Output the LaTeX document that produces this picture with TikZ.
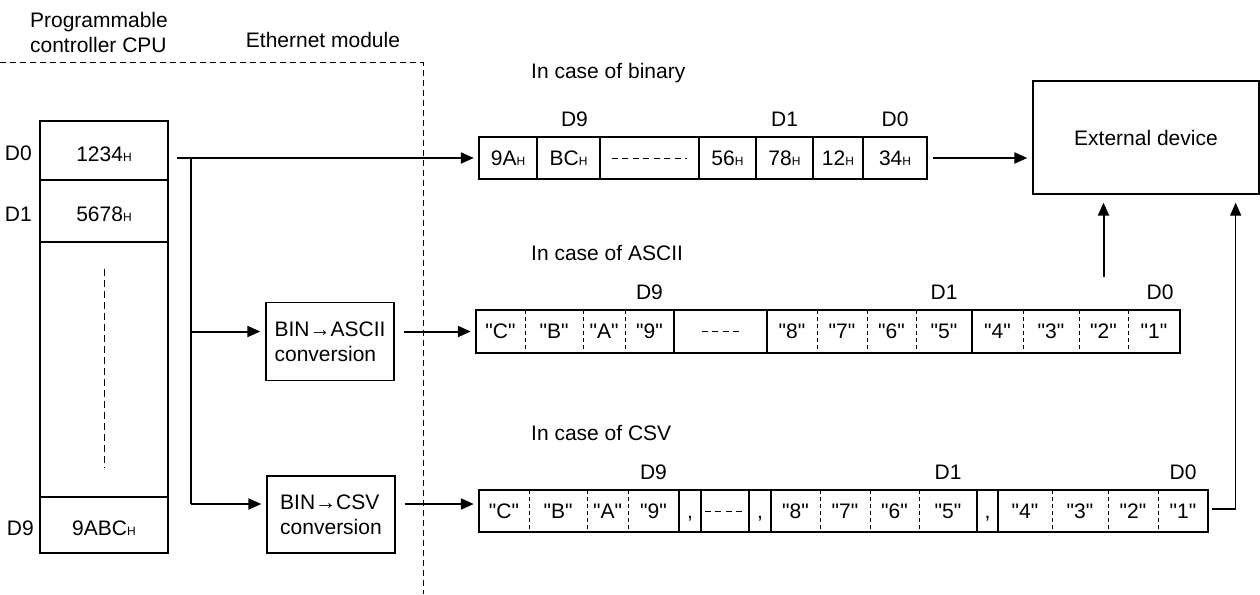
\documentclass[tikz,border=0pt]{standalone}
\usepackage{fontspec}
\setmainfont{Liberation Sans}[Ligatures=TeXOff]
\usetikzlibrary{arrows.meta}
\usetikzlibrary{positioning}
\usetikzlibrary{calc}

\newcommand{\hx}{{\fontsize{12}{12}\selectfont H}}

\begin{document}
\begin{tikzpicture}
          [x=1pt, y=-1pt, font=\fontsize{21}{25}\selectfont,
           every node/.style={inner sep=0pt},
           mem/.style={draw, line width=2pt, minimum width=128pt, text height=21pt, text depth=0pt},
           cell/.style={minimum height=42pt, text height=18pt, text depth=4pt},
           rowbox/.style={draw, line width=2pt},
           ssep/.style={line width=2pt},
           dsep/.style={line width=1pt, dash pattern=on 4pt off 3pt},
           nosep/.style={draw=none},
           gap/.style={line width=1pt, dash pattern=on 6pt off 4.5pt},
           conv/.style={draw, line width=1.3pt, minimum width=128pt, align=left},
           arr/.style={line width=2pt, -{Triangle[length=13pt,width=11pt]}, shorten >=5pt},
           arrthin/.style={arr, line width=1.3pt}]
          \useasboundingbox (0,0) rectangle (1260,594);

          % CPU side
          \node (cpu) [align=left] at (99,32) {Programmable\\controller CPU};
          \node (eth) at (323,40) {Ethernet module};
          \draw[line width=1pt, dash pattern=on 6pt off 4pt] (0,63) -- (423,63) -- (423,594);

          \node (m0) [mem, minimum height=59pt] at (104,150.5) {1234\hx};
          \node (m1) [mem, minimum height=62pt] at (104,211) {5678\hx};
          \node (mm) [mem, minimum height=255pt] at (104,369.5) {};
          \node (m9) [mem, minimum height=56pt] at (104,525) {9ABC\hx};
          \draw[line width=1pt, dash pattern=on 7pt off 4pt] ([shift={(0,28)}]mm.north) -- ([shift={(0,-30)}]mm.south);
          \node (d0) [left=7pt of m0, text height=21pt] {D0};
          \node (d1) [left=7pt of m1, text height=21pt] {D1};
          \node (d9) [left=5pt of m9, text height=21pt] {D9};

          % binary
          \node (tbin) [anchor=west] at (531,73) {In case of binary};
          \foreach \nm/\xa/\xb/\txt/\sp in {b1/479/537/{9A\hx}/ssep, b2/537/600/{BC\hx}/ssep,
              b3/600/699/{}/ssep, b4/699/756/{56\hx}/ssep, b5/756/813/{78\hx}/ssep,
              b6/813/863/{12\hx}/ssep, b7/863/927/{34\hx}/nosep}
          {
            \node (\nm) [cell, minimum width=\xb-\xa] at ({(\xa+\xb)/2},158) {\txt};
            \draw[\sp] (\nm.north east) -- (\nm.south east);
          }
          \draw[rowbox] (b1.north west) rectangle (b7.south east);
          \draw[gap] ($(b3.west)+(12,0)$) -- ($(b3.east)+(-12,0)$);
          \node (bd9) [above=10pt of b2, xshift=6pt] {D9};
          \node (bd1) [above=10pt of b5] {D1};
          \node (bd0) [above=10pt of b7] {D0};

          % ASCII
          \node (tasc) [anchor=west] at (531,253) {In case of ASCII};
          \foreach \nm/\xa/\xb/\txt/\sp in {a1/476/525/"C"/dsep, a2/525/583/"B"/dsep,
              a3/583/625/"A"/dsep, a4/625/674/"9"/ssep, a5/674/767/{}/ssep,
              a6/767/817/"8"/dsep, a7/817/867/"7"/dsep, a8/867/916/"6"/dsep,
              a9/916/972/"5"/ssep, a10/972/1023/"4"/dsep, a11/1023/1079/"3"/dsep,
              a12/1079/1128/"2"/dsep, a13/1128/1180/"1"/nosep}
          {
            \node (\nm) [cell, minimum height=43pt, minimum width=\xb-\xa] at ({(\xa+\xb)/2},331.5) {\txt};
            \draw[\sp] (\nm.north east) -- (\nm.south east);
          }
          \draw[rowbox] (a1.north west) rectangle (a13.south east);
          \draw[gap] ($(a5.west)+(28,0)$) -- ($(a5.east)+(-27,0)$);
          \node (ad9) [above=10pt of a4] {D9};
          \node (ad1) [above=10pt of a9] {D1};
          \node (ad0) [above=10pt of a13, xshift=6pt] {D0};

          % CSV
          \node (tcsv) [anchor=west] at (531,433) {In case of CSV};
          \foreach \nm/\xa/\xb/\txt/\sp in {c1/479/529/"C"/dsep, c2/529/587/"B"/dsep,
              c3/587/628/"A"/dsep, c4/628/679/"9"/ssep, c5/679/701/{,}/ssep,
              c6/701/749/{}/ssep, c7/749/771/{,}/ssep, c8/771/820/"8"/dsep,
              c9/820/870/"7"/dsep, c10/870/919/"6"/dsep, c11/919/977/"5"/ssep,
              c12/977/998/{,}/ssep, c13/998/1052/"4"/dsep, c14/1052/1108/"3"/dsep,
              c15/1108/1158/"2"/dsep, c16/1158/1208/"1"/nosep}
          {
            \node (\nm) [cell, minimum width=\xb-\xa] at ({(\xa+\xb)/2},511) {\txt};
            \draw[\sp] (\nm.north east) -- (\nm.south east);
          }
          \draw[rowbox] (c1.north west) rectangle (c16.south east);
          \draw[gap] ($(c6.west)+(4,0)$) -- ($(c6.east)+(-3,0)$);
          \node (cd9) [above=10pt of c4] {D9};
          \node (cd1) [above=10pt of c11] {D1};
          \node (cd0) [above=10pt of c16] {D0};

          % conversion and external device
          \node (asc) [conv, minimum height=78pt] at (330,341.5) {BIN→ASCII\\conversion};
          \node (csv) [conv, minimum height=77pt] at (331,514.5) {BIN→CSV\\conversion};
          \node (ext) [draw, line width=1.3pt, minimum width=226pt, minimum height=113pt] at (1146,137.5) {External device};

          \coordinate (fork) at (191,158);
          \coordinate (csvin) at ($(c1.west)+(0,-7)$);
          \coordinate (ascup) at ($(a12.north)+(0,-33)$);
          \coordinate (ret) at ($(ext.south east)+(-24,0)$);

          \draw[arr, shorten <=8pt] (m0.east |- b1.west) -- (b1.west);
          \draw[line width=1.3pt] (fork) -- (fork |- csvin);
          \draw[arr] (fork |- a1.west) -- (asc.west |- a1.west);
          \draw[arr] (fork |- csvin) -- (csv.west |- csvin);
          \draw[arr, shorten <=9pt] (asc.east |- a1.west) -- (a1.west);
          \draw[arr, shorten <=9pt] (csv.east |- csvin) -- (csvin);
          \draw[arr, shorten <=6pt] (b7.east) -- (b7.east -| ext.west);
          \draw[arr, shorten >=8pt] (ascup) -- (ascup |- ext.south);
          \draw[arrthin, shorten <=4pt, shorten >=8pt] ($(c16.east)+(0,-2)$) -| (ret);
        \end{tikzpicture}
\end{document}
